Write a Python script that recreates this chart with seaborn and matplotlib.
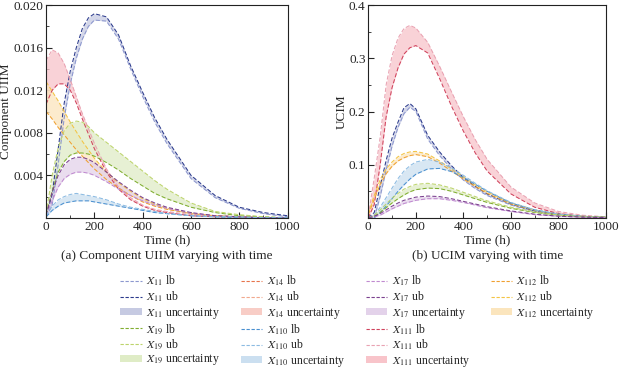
"""Two panels of lower/upper bound bands over time (UIIM and UCIM)."""

import matplotlib
matplotlib.use("Agg")
import matplotlib.pyplot as plt
from matplotlib.lines import Line2D
from matplotlib.patches import Patch
from matplotlib.ticker import MultipleLocator
import seaborn as sns

# time grid shared by every curve (h)
time_h = [0, 25, 50, 75, 100, 125, 150, 175, 200, 250, 300, 350, 400, 450, 500, 600, 700, 800, 900, 1000]

# ---- panel (a): component UIIM ----
a_x11_lb = [0.0001, 0.0012, 0.0050, 0.0094, 0.0126, 0.0150, 0.0168, 0.0180, 0.0186, 0.0185, 0.0168, 0.0140, 0.0114, 0.0090, 0.0070, 0.0037, 0.0019, 0.0009, 0.0004, 0.0001]
a_x11_ub = [0.0002, 0.0022, 0.0065, 0.0108, 0.0138, 0.0160, 0.0178, 0.0188, 0.0192, 0.0189, 0.0172, 0.0143, 0.0118, 0.0094, 0.0074, 0.0040, 0.0021, 0.0010, 0.0005, 0.0002]
a_x111_lb = [0.0107, 0.0120, 0.0126, 0.0126, 0.0120, 0.0108, 0.0093, 0.0079, 0.0065, 0.0043, 0.0027, 0.0017, 0.0011, 0.0007, 0.0005, 0.0002, 0.0001, 0.0001, 0.0000, 0.0000]
a_x111_ub = [0.0148, 0.0158, 0.0155, 0.0145, 0.0130, 0.0114, 0.0098, 0.0084, 0.0070, 0.0046, 0.0029, 0.0019, 0.0012, 0.0008, 0.0006, 0.0003, 0.0002, 0.0001, 0.0000, 0.0000]
a_x19_lb = [0.0003, 0.0025, 0.0043, 0.0053, 0.0059, 0.0061, 0.0061, 0.0060, 0.0058, 0.0052, 0.0045, 0.0037, 0.0030, 0.0023, 0.0018, 0.0010, 0.0005, 0.0002, 0.0001, 0.0000]
a_x19_ub = [0.0004, 0.0040, 0.0066, 0.0082, 0.0089, 0.0091, 0.0090, 0.0086, 0.0080, 0.0071, 0.0062, 0.0053, 0.0044, 0.0035, 0.0027, 0.0014, 0.0006, 0.0003, 0.0001, 0.0000]
a_x110_lb = [0.0001, 0.0007, 0.0011, 0.0014, 0.0015, 0.0016, 0.0016, 0.0016, 0.0015, 0.0013, 0.0011, 0.0009, 0.0007, 0.0005, 0.0004, 0.0002, 0.0001, 0.0000, 0.0000, 0.0000]
a_x110_ub = [0.0002, 0.0011, 0.0017, 0.0020, 0.0022, 0.0023, 0.0022, 0.0021, 0.0020, 0.0017, 0.0013, 0.0010, 0.0008, 0.0006, 0.0004, 0.0002, 0.0001, 0.0001, 0.0000, 0.0000]
a_x17_lb = [0.0002, 0.0016, 0.0029, 0.0037, 0.0041, 0.0043, 0.0043, 0.0042, 0.0040, 0.0034, 0.0027, 0.0021, 0.0016, 0.0012, 0.0009, 0.0004, 0.0002, 0.0001, 0.0000, 0.0000]
a_x17_ub = [0.0003, 0.0024, 0.0040, 0.0050, 0.0055, 0.0057, 0.0057, 0.0055, 0.0052, 0.0043, 0.0034, 0.0026, 0.0019, 0.0014, 0.0010, 0.0005, 0.0002, 0.0001, 0.0000, 0.0000]
a_x112_lb = [0.0100, 0.0093, 0.0085, 0.0078, 0.0071, 0.0064, 0.0058, 0.0052, 0.0046, 0.0036, 0.0028, 0.0021, 0.0015, 0.0011, 0.0008, 0.0004, 0.0002, 0.0001, 0.0000, 0.0000]
a_x112_ub = [0.0128, 0.0119, 0.0110, 0.0100, 0.0090, 0.0081, 0.0072, 0.0064, 0.0056, 0.0043, 0.0033, 0.0025, 0.0018, 0.0013, 0.0009, 0.0004, 0.0002, 0.0001, 0.0000, 0.0000]

# ---- panel (b): UCIM ----
b_x111_lb = [0.000, 0.025, 0.100, 0.190, 0.245, 0.282, 0.308, 0.320, 0.324, 0.310, 0.262, 0.210, 0.163, 0.122, 0.088, 0.045, 0.020, 0.008, 0.003, 0.001]
b_x111_ub = [0.004, 0.075, 0.152, 0.250, 0.305, 0.338, 0.356, 0.362, 0.357, 0.330, 0.285, 0.237, 0.190, 0.147, 0.110, 0.058, 0.028, 0.012, 0.005, 0.002]
b_x11_lb = [0.000, 0.000, 0.040, 0.090, 0.135, 0.170, 0.196, 0.208, 0.200, 0.148, 0.117, 0.092, 0.071, 0.055, 0.042, 0.024, 0.012, 0.005, 0.002, 0.001]
b_x11_ub = [0.000, 0.010, 0.060, 0.108, 0.150, 0.180, 0.207, 0.215, 0.205, 0.155, 0.124, 0.098, 0.076, 0.059, 0.045, 0.026, 0.013, 0.006, 0.002, 0.001]
b_x112_lb = [0.006, 0.035, 0.063, 0.083, 0.097, 0.107, 0.113, 0.117, 0.119, 0.115, 0.103, 0.088, 0.073, 0.059, 0.046, 0.026, 0.014, 0.006, 0.003, 0.001]
b_x112_ub = [0.008, 0.042, 0.072, 0.092, 0.105, 0.115, 0.121, 0.124, 0.125, 0.120, 0.107, 0.092, 0.077, 0.062, 0.049, 0.028, 0.015, 0.007, 0.003, 0.001]
b_x110_lb = [0.000, 0.000, 0.010, 0.022, 0.036, 0.050, 0.062, 0.073, 0.082, 0.092, 0.093, 0.087, 0.076, 0.063, 0.050, 0.028, 0.015, 0.007, 0.003, 0.001]
b_x110_ub = [0.000, 0.005, 0.020, 0.038, 0.056, 0.074, 0.088, 0.098, 0.105, 0.110, 0.105, 0.094, 0.080, 0.065, 0.051, 0.029, 0.015, 0.007, 0.003, 0.001]
b_x19_lb = [0.000, 0.003, 0.010, 0.019, 0.028, 0.036, 0.043, 0.049, 0.053, 0.056, 0.055, 0.050, 0.043, 0.036, 0.029, 0.018, 0.010, 0.005, 0.002, 0.001]
b_x19_ub = [0.000, 0.005, 0.015, 0.026, 0.037, 0.046, 0.054, 0.059, 0.063, 0.065, 0.062, 0.056, 0.048, 0.040, 0.032, 0.020, 0.011, 0.005, 0.002, 0.001]
b_x17_lb = [0.000, 0.002, 0.005, 0.011, 0.017, 0.022, 0.027, 0.030, 0.033, 0.036, 0.036, 0.033, 0.029, 0.024, 0.019, 0.012, 0.006, 0.003, 0.001, 0.0005]
b_x17_ub = [0.000, 0.003, 0.008, 0.015, 0.022, 0.028, 0.033, 0.036, 0.039, 0.041, 0.040, 0.036, 0.031, 0.026, 0.021, 0.013, 0.007, 0.003, 0.0015, 0.0005]

# colours: (lb line, ub line, band fill)
STYLE = {
    "11": ("#8d98cf", "#2b3a8c", "#c6cae2"),
    "14": ("#e7744c", "#f1a88e", "#f8cdc6"),
    "19": ("#80ae30", "#bdd46c", "#dfecc6"),
    "110": ("#4a90d0", "#8cbbe2", "#cbdff0"),
    "17": ("#c08ad0", "#7b408f", "#e3d2ea"),
    "111": ("#d0425c", "#e9a2b2", "#f8c4ca"),
    "112": ("#f0a030", "#f3c444", "#fbe5bd"),
}

panel_a = [("11", a_x11_lb, a_x11_ub), ("111", a_x111_lb, a_x111_ub), ("112", a_x112_lb, a_x112_ub),
           ("19", a_x19_lb, a_x19_ub), ("17", a_x17_lb, a_x17_ub), ("110", a_x110_lb, a_x110_ub)]
panel_b = [("111", b_x111_lb, b_x111_ub), ("11", b_x11_lb, b_x11_ub), ("112", b_x112_lb, b_x112_ub),
           ("110", b_x110_lb, b_x110_ub), ("19", b_x19_lb, b_x19_ub), ("17", b_x17_lb, b_x17_ub)]

sns.set_theme(style="ticks")
plt.rcParams["font.family"] = ["Liberation Serif", "DejaVu Serif"]
plt.rcParams["mathtext.fontset"] = "stix"

fig = plt.figure(figsize=(6.19, 3.68), dpi=100)
ax_a = fig.add_axes([0.0745, 0.408, 0.390, 0.578])
ax_b = fig.add_axes([0.595, 0.408, 0.384, 0.578])


def draw(ax, series):
    for key, lb, ub in series:
        c_lb, c_ub, c_fill = STYLE[key]
        ax.fill_between(time_h, lb, ub, color=c_fill, alpha=0.75, lw=0)
        sns.lineplot(x=time_h, y=lb, ax=ax, color=c_lb, lw=0.75, linestyle=(0, (4, 2)))
        sns.lineplot(x=time_h, y=ub, ax=ax, color=c_ub, lw=0.75, linestyle=(0, (4, 2)))


draw(ax_a, panel_a)
draw(ax_b, panel_b)

for ax, ymax, ymaj, ymin, ylab, cap, fmt in [
    (ax_a, 0.020, 0.004, 0.002, "Component UIIM", "(a) Component UIIM varying with time", "{:.3f}"),
    (ax_b, 0.4, 0.1, 0.05, "UCIM", "(b) UCIM varying with time", "{:.1f}"),
]:
    ax.set_xlim(0, 1000)
    ax.set_ylim(0, ymax)
    ax.xaxis.set_major_locator(MultipleLocator(200))
    ax.xaxis.set_minor_locator(MultipleLocator(100))
    ax.yaxis.set_major_locator(MultipleLocator(ymaj))
    ax.yaxis.set_minor_locator(MultipleLocator(ymin))
    yt = [ymaj * k for k in range(1, int(round(ymax / ymaj)) + 1)]
    ax.set_yticks(yt)
    ax.set_yticklabels([fmt.format(v) for v in yt])
    ax.tick_params(which="major", direction="in", length=4, width=0.8, labelsize=9.5, pad=2)
    ax.tick_params(which="minor", direction="in", length=2, width=0.6)
    for s in ax.spines.values():
        s.set_linewidth(0.8)
        s.set_color("#222222")
    ax.set_xlabel("Time (h)", fontsize=9.5, labelpad=1)
    ax.set_ylabel(ylab, fontsize=9.5, labelpad=1)
    ax.text(0.5, -0.178, cap, transform=ax.transAxes, ha="center", va="center", fontsize=9.5)

# shared legend (4 columns, last column padded with blank entries)
order = ["11", "19", "14", "110", "17", "111", "112"]
handles, labels = [], []
for key in order:
    c_lb, c_ub, c_fill = STYLE[key]
    handles.append(Line2D([], [], color=c_lb, lw=0.8, linestyle=(0, (3, 1.5))))
    labels.append(rf"$X_{{{key}}}$ lb")
    handles.append(Line2D([], [], color=c_ub, lw=0.8, linestyle=(0, (3, 1.5))))
    labels.append(rf"$X_{{{key}}}$ ub")
    handles.append(Patch(facecolor=c_fill, edgecolor="none"))
    labels.append(rf"$X_{{{key}}}$ uncertainty")
for _ in range(3):
    handles.append(Line2D([], [], color="none"))
    labels.append("")

fig.legend(handles, labels, ncol=4, loc="upper left", bbox_to_anchor=(0.185, 0.272),
           frameon=False, fontsize=8.5, handlelength=1.8, handleheight=0.6,
           handletextpad=0.4, columnspacing=1.75, labelspacing=0.12, borderpad=0)

fig.savefig("out.png", dpi=100)
